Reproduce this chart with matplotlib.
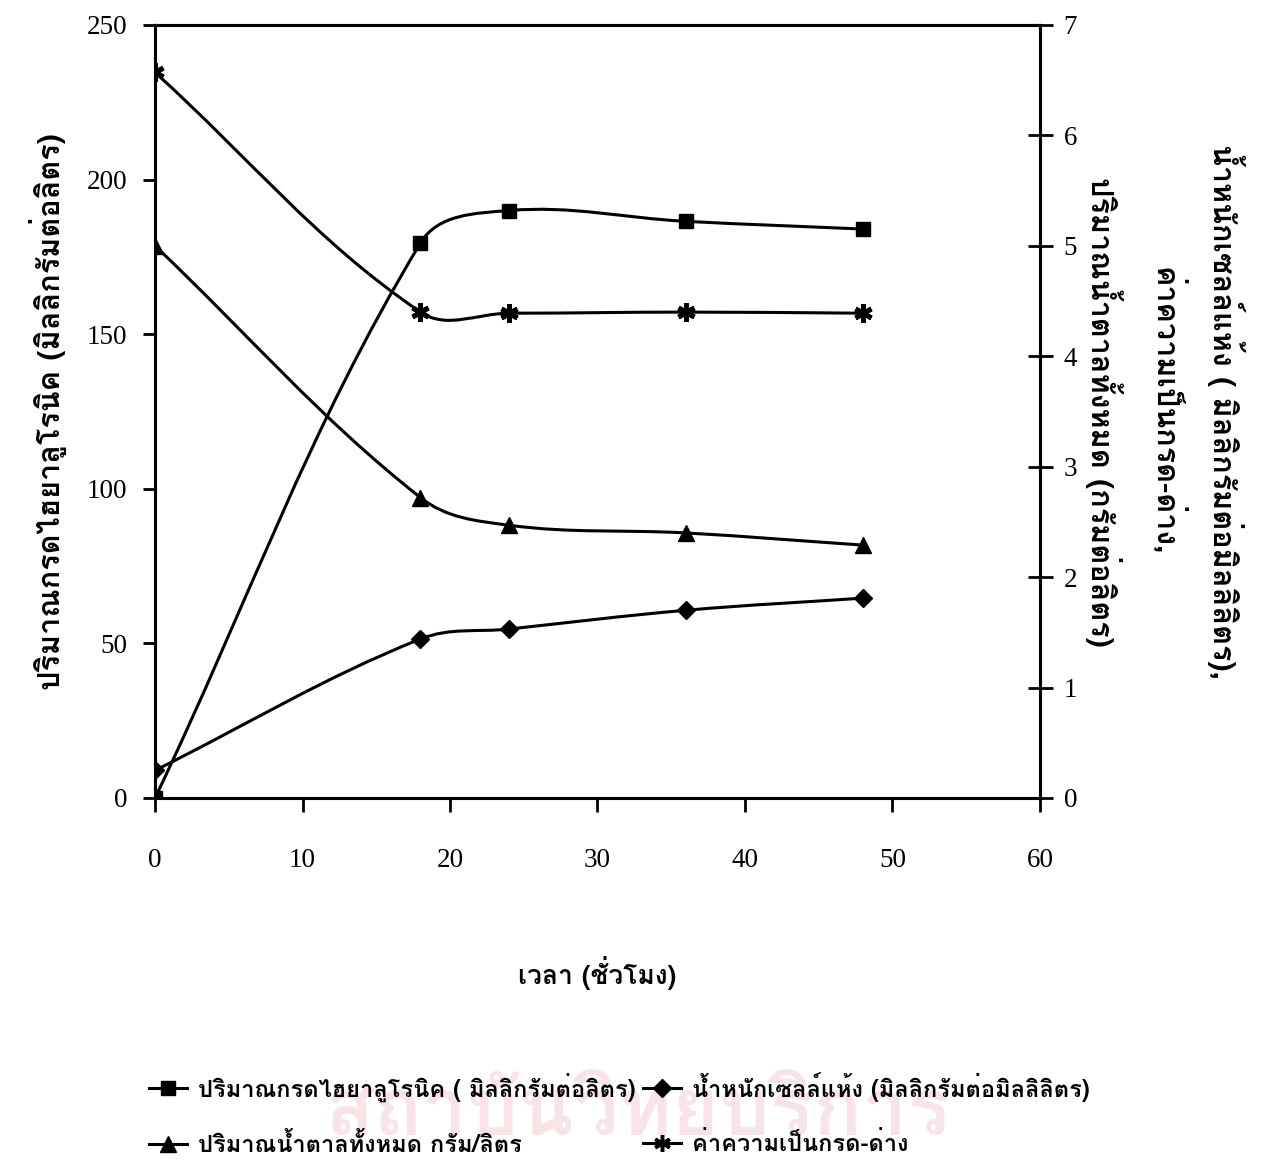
import numpy as np
import matplotlib
matplotlib.use("Agg")
import matplotlib.pyplot as plt
from matplotlib import font_manager
from matplotlib.ft2font import FT2Font
from matplotlib.path import Path
from matplotlib.patches import PathPatch
from matplotlib.lines import Line2D

# fermentation time (h)
hours = [0, 18, 24, 36, 48]

# left axis: hyaluronic acid (mg/L)
hyaluronic = [0, 179.5, 190, 186.5, 184]

# right axis
dry_cell = [0.25, 1.44, 1.53, 1.70, 1.81]      # mg/mL
total_sugar = [5.0, 2.72, 2.47, 2.40, 2.29]    # g/L
ph = [6.57, 4.40, 4.39, 4.40, 4.39]

x_ticks = [0, 10, 20, 30, 40, 50, 60]
left_ticks = [0, 50, 100, 150, 200, 250]
right_ticks = [0, 1, 2, 3, 4, 5, 6, 7]

label_ha = "ปริมาณกรดไฮยาลูโรนิค ( มิลลิกรัมต่อลิตร)"
label_dcw = "น้ำหนักเซลล์แห้ง (มิลลิกรัมต่อมิลลิลิตร)"
label_sugar = "ปริมาณน้ำตาลทั้งหมด กรัม/ลิตร"
label_ph = "ค่าความเป็นกรด-ด่าง"
xlabel = "เวลา (ชั่วโมง)"
ylabel_left = "ปริมาณกรดไฮยาลูโรนิค (มิลลิกรัมต่อลิตร)"
ylabel_right = ("น้ำหนักเซลล์แห้ง ( มิลลิกรัมต่อมิลลิลิตร),\n"
                "ค่าความเป็นกรด-ด่าง,\n"
                "ปริมาณน้ำตาลทั้งหมด (กรัมต่อลิตร)")

PREFERRED = ["Umpush", "Tlwg Typo", "Garuda", "Loma", "Noto Sans Thai",
             "Waree", "Laksaman", "Sarabun", "Kinnari", "Norasi"]


def find_thai_font():
    # collect installed faces that carry Thai glyphs, pick a bold one
    found = []
    for path in font_manager.findSystemFonts():
        try:
            ft = FT2Font(path)
            if 0x0E01 in ft.get_charmap():
                found.append((ft.family_name, ft.style_name, path))
        except Exception:
            continue
    if not found:
        return None

    def rank(f):
        name = f[0]
        pref = PREFERRED.index(name) if name in PREFERRED else len(PREFERRED)
        bold = 0 if "Bold" in f[1] and "Oblique" not in f[1] \
            and "Italic" not in f[1] else 1
        return (pref, bold)

    found.sort(key=rank)
    best = [f for f in found if f[0] == found[0][0]]
    for f in best:
        font_manager.fontManager.addfont(f[2])
    return found[0][0]


thai = find_thai_font()
families = ([thai] if thai else []) + ["Liberation Serif", "DejaVu Sans"]
plt.rcParams["font.family"] = families
plt.rcParams["font.weight"] = "bold"

fig = plt.figure(figsize=(12.75, 11.73), dpi=100)
ax = fig.add_axes([0.1216, 0.3197, 0.694, 0.659])
ax2 = ax.twinx()

ax.set_xlim(0, 60)
ax.set_ylim(0, 250)
ax2.set_ylim(0, 7)


def smooth_curve(axis, xs, ys, k=0.36):
    # spreadsheet-style smoothed line: cubic Bezier segments, tangents
    # taken from neighbouring points in screen proportions
    bb = axis.get_window_extent()
    x0, x1 = axis.get_xlim()
    y0, y1 = axis.get_ylim()
    sx = bb.width / (x1 - x0)
    sy = bb.height / (y1 - y0)
    p = np.column_stack([np.asarray(xs, float) * sx, np.asarray(ys, float) * sy])
    n = len(p)
    tang = []
    for i in range(n):
        d = p[min(i + 1, n - 1)] - p[max(i - 1, 0)]
        tang.append(d / np.hypot(*d))
    verts = [p[0]]
    codes = [Path.MOVETO]
    for i in range(n - 1):
        seg = np.hypot(*(p[i + 1] - p[i])) * k
        verts += [p[i] + tang[i] * seg, p[i + 1] - tang[i + 1] * seg, p[i + 1]]
        codes += [Path.CURVE4] * 3
    verts = np.array(verts) / [sx, sy]
    axis.add_patch(PathPatch(Path(verts, codes), fill=False, lw=2.2,
                             edgecolor="black", zorder=3))


fig.canvas.draw()
smooth_curve(ax, hours, hyaluronic)
smooth_curve(ax2, hours, dry_cell)
smooth_curve(ax2, hours, total_sugar)
smooth_curve(ax2, hours, ph)

mk = dict(color="black", linestyle="none", zorder=4)
ax.plot(hours, hyaluronic, marker="s", markersize=10, **mk)
ax2.plot(hours, dry_cell, marker="D", markersize=9, **mk)
ax2.plot(hours, total_sugar, marker="^", markersize=11, **mk)
ax2.plot(hours, ph, marker=(6, 2, 0), markersize=13, markeredgewidth=3.5, **mk)

for a in (ax, ax2):
    for s in a.spines.values():
        s.set_linewidth(2.2)
ax2.spines["top"].set_linewidth(1.5)

ax.set_xticks(x_ticks)
ax.set_yticks(left_ticks)
ax2.set_yticks(right_ticks)
tick_font = dict(family="Liberation Serif", weight="normal", size=19.5)
ax.set_xticklabels([str(t) for t in x_ticks], fontdict=tick_font)
ax.set_yticklabels([str(t) for t in left_ticks], fontdict=tick_font)
ax2.set_yticklabels([str(t) for t in right_ticks], fontdict=tick_font)
ax.tick_params(axis="x", direction="out", length=10, width=2, pad=26)
ax.tick_params(axis="y", direction="out", length=9, width=2, pad=11)
ax2.tick_params(axis="y", direction="inout", length=18, width=2, pad=8)

ax.set_xlabel(xlabel, fontsize=19, fontweight="bold", labelpad=60)
ax.set_ylabel(ylabel_left, fontsize=22, fontweight="bold", labelpad=14)
ax2.set_ylabel(ylabel_right, fontsize=22, fontweight="bold", rotation=270,
               labelpad=63, linespacing=1.8, ha="center", va="center")

# faint institute watermark behind the legend
fig.text(0.5, 0.05, "สถาบันวิทยบริการ", fontsize=58, color="#f8e4e7",
         ha="center", va="center", zorder=0)

handles = [
    Line2D([], [], color="black", lw=2.2, marker="s", markersize=10),
    Line2D([], [], color="black", lw=2.2, marker="^", markersize=11),
    Line2D([], [], color="black", lw=2.2, marker="D", markersize=9),
    Line2D([], [], color="black", lw=2.2, marker=(6, 2, 0), markersize=12,
           markeredgewidth=2.5),
]
labels = [label_ha, label_sugar, label_dcw, label_ph]
fig.legend(handles, labels, ncol=2, loc="center left",
           bbox_to_anchor=(0.1, 0.05), frameon=False, fontsize=17,
           handlelength=1.6, handletextpad=0.5, columnspacing=0.3,
           labelspacing=1.3)

fig.savefig("out.png", dpi=100)
